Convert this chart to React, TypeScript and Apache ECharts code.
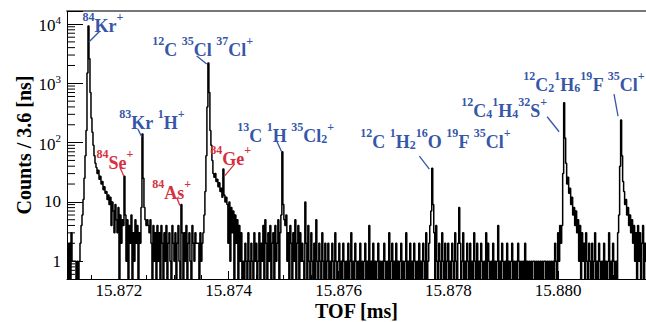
import React, { useEffect, useRef } from 'react';
import * as echarts from 'echarts';

// ---- axis ranges ----
const tofMin = 15.871055; // ms
const tofMax = 15.8816; // ms
const countMin = 0.5;
const countMax = 16600;

// ---- histogram: counts per 3.6 ns, read column by column (one entry per ~18.2 ns) ----
const tofStart = 15.871055;
const binWidth = 0.0000182; // ms

const leftNoise = [2, 0, 2, 0, 3, 1, 1, 1, 1, 0, 1, 0, 1];
const kr84 = [
  2, 4, 6, 11, 25, 60, 160, 1500, 9300,
  2600, 700, 260, 150, 90, 60, 45, 38, 30, 34, 24, 27, 20, 22, 16, 18, 14, 15, 11, 13, 9, 12, 4, 10, 7, 3, 9, 5, 3, 8, 0, 6, 2, 5,
];
const se84KrH = [
  4, 27, 6, 1, 5, 0, 4, 2, 6, 0, 3, 1, 5, 2, 4, 0, 3, 2, 8, 140, 25, 8, 5, 4, 5, 4, 3, 5, 2, 0, 4, 1, 3, 0, 4,
];
const as84 = [
  1, 3, 0, 4, 2, 0, 3, 1, 4, 0, 2, 3, 1, 0, 4, 2, 1, 3, 0, 2,
  4, 1, 0, 9, 3, 0, 3, 1, 4, 0, 2, 3, 1, 0, 4, 2, 1, 3, 2, 2,
];
const ccl2 = [
  2, 0, 3, 1, 2, 3, 6, 15, 60, 400, 2200, 700, 160, 90, 50, 30, 26, 30, 22, 24,
  18, 21, 15, 17, 12, 36, 13, 10, 12, 9, 2, 10, 1, 8, 3, 7, 0, 6, 2, 5, 0, 4, 1, 3, 0,
];
const hcl2 = [
  1, 0, 2, 1, 0, 3, 1, 0, 2, 1, 0, 3, 1, 2, 0, 1, 3, 0, 2, 1,
  4, 0, 5, 2, 0, 3, 1, 4, 0, 2, 3, 0, 4, 1, 2, 5, 0, 3, 6, 70,
  9, 5, 4, 6, 1, 3, 0, 4, 2, 0, 3, 1, 5, 0, 2, 4, 0, 3, 1, 2,
];
const noiseA = [
  1, 0, 10, 2, 0, 4, 1, 0, 3, 1, 0, 2, 0, 5, 1, 0, 2, 1, 0, 3,
  1, 0, 2, 0, 1, 2, 0, 1, 0, 2, 1, 0, 3, 1, 0, 1, 2, 0, 1, 0,
  2, 1, 0, 1, 0, 2, 0, 1, 3, 0, 1, 0, 2, 1, 0, 1, 0, 2, 0, 1,
  0, 1, 2, 0, 1, 0, 4, 0, 1, 0, 2, 0, 1, 0, 1, 2, 0, 1, 0, 1,
  0, 2, 1, 0, 1, 0, 3, 0, 1, 2, 0, 1, 0, 2, 0, 1, 0, 1, 2, 0,
  1, 0, 1, 3, 0, 1, 0, 2, 0, 1, 0, 2, 1, 0, 1, 0, 2, 0,
];
const noiseB = [
  1, 0, 2, 1, 0, 3, 0, 1, 2, 4, 7, 37, 9, 3, 0, 4, 1, 0, 2, 1,
  0, 3, 1, 0, 2, 0, 1, 2, 0, 1, 0, 2, 1, 0, 3, 1, 0, 2, 8, 2,
  0, 1, 3, 0, 1, 0, 2, 1, 0, 2, 0, 1, 0, 3, 1, 0, 2, 0, 1, 0,
  2, 1, 0, 1, 0, 3, 0, 2, 1, 0, 1, 0, 2, 0, 1, 0, 1, 4, 0, 1,
  0, 2, 1, 0, 1, 0, 2, 0, 1, 0, 1, 2, 0, 1, 0, 1, 0, 2, 1, 0,
  1, 0, 1, 0, 2, 0, 1, 0, 1, 0, 1, 0, 1, 1, 0, 1, 0, 1, 0, 1,
  0, 1, 0, 1, 1, 0, 1, 0, 1, 0, 1, 0, 1, 0, 2, 1, 0, 3, 1, 4,
];
const c4h4s = [
  2, 4, 30, 470, 120, 45, 20, 26, 14, 17, 9, 12, 6, 8, 4, 7, 3, 5, 1, 4,
  0, 3, 1, 2, 0, 3, 1, 0, 2, 1, 0, 2, 0, 1, 3, 0, 1, 0, 2, 1,
  0, 1, 0, 2, 0, 1, 0, 1, 3, 0, 1, 0, 2, 1, 0,
];
const c2h6fcl = [
  1, 0, 3, 6, 40, 240, 60, 22, 15, 9, 11, 6, 8, 4, 6, 3, 5, 2, 4, 1,
  3, 0, 4, 1, 3, 0, 2, 4, 0, 2, 1,
];

// ---- axis ticks ----
const yMajorTicks = [1, 10, 100, 1000, 10000];
const yMinorTicks = [
  0.6, 0.7, 0.8, 0.9,
  2, 3, 4, 5, 6, 7, 8, 9,
  20, 30, 40, 50, 60, 70, 80, 90,
  200, 300, 400, 500, 600, 700, 800, 900,
  2000, 3000, 4000, 5000, 6000, 7000, 8000, 9000,
];

// ---- peak annotations ----
const annoTof = [15.871436, 15.873618, 15.872418, 15.872091, 15.873127, 15.873891, 15.874964, 15.877691, 15.880091, 15.881127];
const annoCount = [9300, 2200, 140, 27, 9, 36, 70, 37, 470, 240];
const annoText = [
  '{p|84}{m|Kr}{p|+}',
  '{p|12}{m|C }{p|35}{m|Cl }{p|37}{m|Cl}{p|+}',
  '{p|83}{m|Kr }{p|1}{m|H}{p|+}',
  '{p|84}{m|Se}{p|+}',
  '{p|84}{m|As}{p|+}',
  '{p|84}{m|Ge}{p|+}',
  '{p|13}{m|C }{p|1}{m|H }{p|35}{m|Cl}{b|2}{p|+}',
  '{p|12}{m|C }{p|1}{m|H}{b|2}{p|16}{m|O }{p|19}{m|F }{p|35}{m|Cl}{p|+}',
  '{p|12}{m|C}{b|4}{p|1}{m|H}{b|4}{p|32}{m|S}{p|+}',
  '{p|12}{m|C}{b|2}{p|1}{m|H}{b|6}{p|19}{m|F }{p|35}{m|Cl}{p|+}',
];
const annoKind = ['ref', 'ref', 'ref', 'iso', 'iso', 'iso', 'ref', 'ref', 'ref', 'ref'];
// pixel offsets from the peak: [lineStartX, lineStartY, lineEndX, lineEndY, textX, textY]
const annoLayout = [
  [12, 5, 1, 16, 15, -3],
  [-11, -7, -1, 1, -5, -16],
  [-4, -5, 0, 3, 10, -14],
  [-4, -9, 0, 0, -9, -16],
  [-4, -7, -1, 1, -9, -15],
  [12, -5, 2, 7, 8, -13],
  [-6, -13, 0, 0, 4, -19],
  [-12, -12, -2, 1, 4, -29],
  [-16, 14, -4, 29, -59, 5],
  [-6, -26, -2, -4, -36, -38],
];

const BLUE = '#3656a8';
const RED = '#d6303f';
const SERIF = 'Liberation Serif';

export default function App() {
  const ref = useRef<HTMLDivElement>(null);

  useEffect(() => {
    if (!ref.current) return;
    const chart = echarts.init(ref.current, undefined, { renderer: 'svg' });

    const counts = [
      ...leftNoise, ...kr84, ...se84KrH, ...as84, ...ccl2,
      ...hcl2, ...noiseA, ...noiseB, ...c4h4s, ...c2h6fcl,
    ];
    const histData: number[][] = counts.map((c, i) => [tofStart + i * binWidth, c > 0 ? c : 0.1]);
    const last = counts[counts.length - 1];
    histData.push([tofStart + counts.length * binWidth, last > 0 ? last : 0.1]);

    const tok = (size: number, lh: number, va: string, color: string) => ({
      fontFamily: SERIF, fontWeight: 'bold', fontSize: size, lineHeight: lh, color,
      verticalAlign: va, textBorderWidth: 0, opacity: 1,
    });
    const richFor = (color: string) => ({
      m: tok(18, 24, 'bottom', color),
      p: tok(12, 12, 'top', color),
      b: tok(12, 12, 'bottom', color),
    });

    const labelData = annoTof.map((t, i) => {
      const color = annoKind[i] === 'iso' ? RED : BLUE;
      const L = annoLayout[i];
      return {
        value: [t, annoCount[i]],
        label: {
          show: true,
          position: 'inside',
          offset: [L[4], L[5]],
          align: 'center',
          verticalAlign: 'middle',
          formatter: annoText[i],
          fontFamily: SERIF,
          fontWeight: 'bold',
          fontSize: 18,
          color,
          opacity: 1,
          textBorderWidth: 0,
          textBorderColor: 'transparent',
          rich: richFor(color),
        },
      };
    });

    const option: any = {
      animation: false,
      backgroundColor: '#ffffff',
      grid: { left: 67, right: 0, top: 11, bottom: 43, containLabel: false, outerBoundsMode: 'none' },
      xAxis: [
        {
          type: 'value',
          min: tofMin,
          max: tofMax,
          name: 'TOF [ms]',
          nameLocation: 'middle',
          nameGap: 23,
          nameMoveOverlap: false,
          nameTextStyle: { fontFamily: SERIF, fontSize: 20, fontWeight: 'bold', color: '#000', lineHeight: 18 },
          axisLine: { show: true, lineStyle: { color: '#000', width: 1 } },
          axisTick: { show: true, inside: true, length: 8, lineStyle: { color: '#000' } },
          minorTick: { show: true, splitNumber: 4, length: 4, lineStyle: { color: '#000' } },
          axisLabel: {
            fontFamily: SERIF, fontSize: 17, lineHeight: 17, color: '#000', margin: 3,
            showMinLabel: false, showMaxLabel: false,
            formatter: (v: number) => {
              const k = Math.round(v / 0.002);
              return Math.abs(v - k * 0.002) < 1e-9 ? v.toFixed(3) : '';
            },
          },
          splitLine: { show: false },
          minorSplitLine: { show: false },
        },
        {
          type: 'value',
          position: 'top',
          min: tofMin,
          max: tofMax,
          axisLine: { show: true, lineStyle: { color: '#777', width: 2 } },
          axisTick: { show: false },
          axisLabel: { show: false },
          splitLine: { show: false },
        },
      ],
      yAxis: {
        type: 'log',
        logBase: 10,
        min: countMin,
        max: countMax,
        name: 'Counts / 3.6 [ns]',
        nameLocation: 'middle',
        nameGap: 33,
        nameMoveOverlap: false,
        nameTextStyle: { fontFamily: SERIF, fontSize: 20, fontWeight: 'bold', color: '#000' },
        axisLine: { show: true, lineStyle: { color: '#000', width: 1 } },
        axisTick: { show: true, inside: true, length: 16, lineStyle: { color: '#000' } },
        axisLabel: {
          fontFamily: SERIF, fontSize: 17, color: '#000', margin: 6,
          formatter: (v: number) => {
            const e = Math.round(Math.log10(v));
            const p = Math.pow(10, e);
            if (Math.abs(v - p) > 1e-6 * p || yMajorTicks.indexOf(p) < 0) return '';
            if (e === 0) return '1';
            if (e === 1) return '10';
            return `{b|10}{e|${e}}`;
          },
          rich: {
            b: { fontFamily: SERIF, fontSize: 17, lineHeight: 20, color: '#000', verticalAlign: 'bottom' },
            e: { fontFamily: SERIF, fontSize: 11, lineHeight: 11, color: '#000', verticalAlign: 'top' },
          },
        },
        splitLine: { show: false },
      },
      series: [
        {
          type: 'line',
          data: histData,
          step: 'end',
          symbol: 'none',
          clip: true,
          lineStyle: { color: '#000', width: 1.5 },
          silent: true,
          z: 3,
        },
        {
          type: 'custom',
          silent: true,
          z: 4,
          data: yMinorTicks.map((v) => [tofMin, v]),
          renderItem: (_params: any, api: any) => {
            const p = api.coord([api.value(0), api.value(1)]);
            return {
              type: 'line',
              shape: { x1: p[0], y1: p[1], x2: p[0] + 8, y2: p[1] },
              style: { stroke: '#000', lineWidth: 1 },
            };
          },
        },
        {
          type: 'custom',
          silent: true,
          z: 10,
          data: annoTof.map((t, i) => [t, annoCount[i], i]),
          renderItem: (_params: any, api: any) => {
            const i = api.value(2);
            const p = api.coord([api.value(0), api.value(1)]);
            const L = annoLayout[i];
            const color = annoKind[i] === 'iso' ? RED : BLUE;
            return {
              type: 'line',
              shape: { x1: p[0] + L[0], y1: p[1] + L[1], x2: p[0] + L[2], y2: p[1] + L[3] },
              style: { stroke: color, lineWidth: 1.3 },
            };
          },
        },
        {
          type: 'scatter',
          silent: true,
          z: 11,
          symbol: 'circle',
          symbolSize: 1,
          clip: false,
          itemStyle: { color: '#fff', opacity: 0 },
          data: labelData,
        },
      ],
    };

    chart.setOption(option);
    return () => chart.dispose();
  }, []);

  return (
    <div
      ref={ref}
      style={{ position: 'fixed', left: 0, top: 0, width: 646, height: 322, background: '#fff' }}
    />
  );
}
